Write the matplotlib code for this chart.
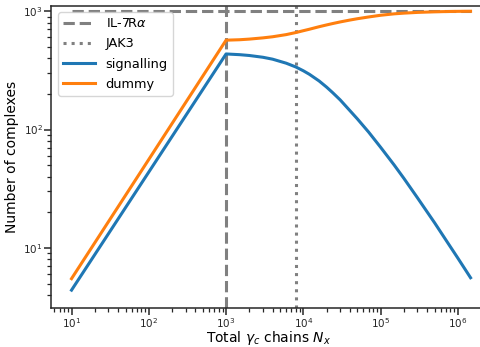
import matplotlib
matplotlib.use("Agg")
import matplotlib.pyplot as plt

# Receptor copy numbers (reference lines)
n_il7ra = 1000
n_jak3 = 8000

# Total gamma_c chains
n_x = [10, 1000, 1500, 2000, 3000, 4000, 6000, 8000, 10000, 12000, 16000,
       20000, 24000, 30000, 40000, 50000, 70000, 100000, 150000, 200000,
       300000, 500000, 750000, 1000000, 1460000]

# Number of signalling complexes
signalling = [4.4, 434.5, 428.5, 421.7, 407.4, 392.6, 363.1, 337.3, 313.3,
              292.4, 257.0, 228.0, 204.6, 177.8, 144.5, 123.0, 95.1, 70.8,
              50.1, 38.7, 26.5, 16.3, 10.9, 8.2, 5.6]

# Number of dummy complexes
dummy = [5.5, 568, 573, 580, 594, 607, 633, 659, 683, 703, 738, 764, 785,
         810, 840, 862, 892, 922, 948, 961, 975, 986, 992, 995, 997]

plt.rcParams.update({
    "font.family": "DejaVu Sans",
    "axes.edgecolor": "#262626",
    "axes.linewidth": 1.1,
    "xtick.color": "#262626",
    "ytick.color": "#262626",
    "xtick.direction": "out",
    "ytick.direction": "out",
    "xtick.major.size": 4.8,
    "ytick.major.size": 4.8,
    "xtick.minor.size": 3,
    "ytick.minor.size": 3,
    "xtick.major.width": 1.1,
    "ytick.major.width": 1.1,
    "xtick.minor.width": 0.9,
    "ytick.minor.width": 0.9,
    "xtick.major.pad": 0.5,
    "ytick.major.pad": 1.5,
    "xtick.minor.pad": 0.5,
    "ytick.minor.pad": 1.5,
})

fig = plt.figure(figsize=(4.81, 3.47), dpi=100)
ax = fig.add_axes([0.107, 0.111, 0.903, 0.8725])

lw = 2.2
ax.plot([n_x[0], n_x[-1]], [n_il7ra, n_il7ra], "--", color="grey", lw=lw,
        label=r"IL-7R$\alpha$")
ax.axvline(n_il7ra, ls="--", color="grey", lw=lw)
ax.axvline(n_jak3, ls=":", color="grey", lw=lw, label="JAK3")
ax.plot(n_x, signalling, color="#1f77b4", lw=lw, label="signalling")
ax.plot(n_x, dummy, color="#ff7f0e", lw=lw, label="dummy")

ax.set_xscale("log")
ax.set_yscale("log")
ax.set_xlim(5.5, 2.3e6)
ax.set_ylim(3.08, 1110)

ax.set_xlabel(r"Total $\gamma_c$ chains $N_x$", fontsize=10, labelpad=-0.5)
ax.set_ylabel("Number of complexes", fontsize=10, labelpad=3)
ax.tick_params(labelsize=7.5)

ax.legend(loc="upper left", fontsize=9.3, handlelength=2.5,
          labelspacing=0.55)

fig.savefig("out.png", dpi=100)
